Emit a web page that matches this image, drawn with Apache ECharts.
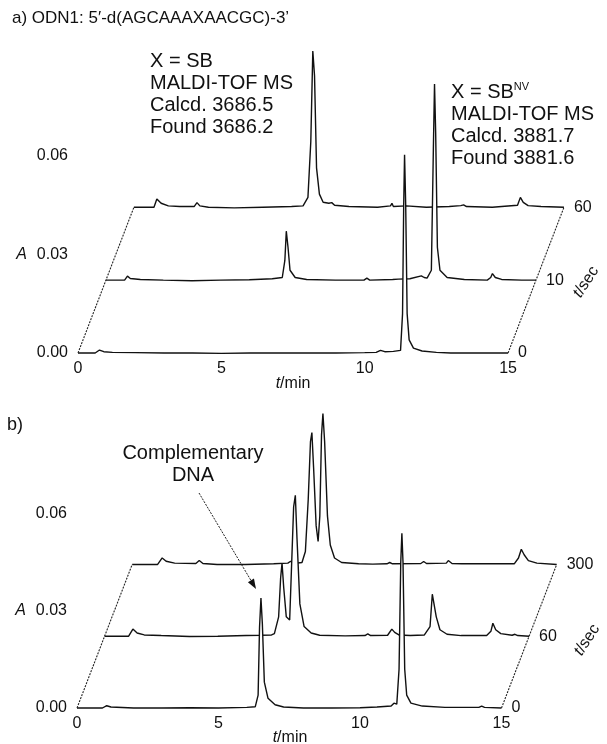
<!DOCTYPE html>
<html>
<head>
<meta charset="utf-8">
<script src="https://cdn.jsdelivr.net/npm/echarts@6/dist/echarts.min.js"></script>
<style>
    html, body { margin: 0; padding: 0; background: #fff; }
    #chart { width: 607px; height: 744px; }
</style>
</head>
<body>
<div id="chart"></div>
<script>
    // axis ticks (t/min and absorbance A)
    const xTicks = [0, 5, 10, 15];
    const yTicks = [0, 0.03, 0.06];

    // panel a) ODN1 chromatograms, points are [t/min, A]
    const labelsA = ['0', '10', '60'];
    const traceA0 = [
        [0, 0], [0.6, 0], [0.75, 0.0009], [0.9, 0.0004], [1.2, 0.0002], [2, 0.0001], [3, 0], [4, 0],
        [5, -0.0001], [6, 0], [7, 0], [8, 0], [9, 0], [10, 0.0001], [10.4, 0.0002], [10.55, 0.0008],
        [10.7, 0.0004], [11.0, 0.0005], [11.25, 0.0008], [11.32, 0.012], [11.36, 0.045], [11.39, 0.0604],
        [11.43, 0.045], [11.48, 0.012], [11.55, 0.004], [11.7, 0.0015], [12.0, 0.0006], [12.5, 0.0002],
        [13, 0], [14, 0], [15, 0]
    ];
    const traceA10 = [
        [0, 0], [0.65, 0], [0.75, 0.0012], [0.85, 0.0005], [1.2, 0.0002], [2, 0], [3, -0.0002], [4, 0],
        [5, 0.0001], [5.8, 0.0004], [6.15, 0.0008], [6.24, 0.006], [6.29, 0.0149], [6.35, 0.01],
        [6.42, 0.003], [6.6, 0.0008], [7, 0.0002], [8, 0], [9.0, 0], [9.1, 0.0006], [9.2, 0],
        [10, 0.0002], [10.2, 0.0003], [10.6, 0.0004], [11, 0.0013], [11.1, 0.0008], [11.2, 0.0006],
        [11.35, 0.003], [11.42, 0.04], [11.46, 0.0597], [11.5, 0.045], [11.56, 0.01], [11.65, 0.003],
        [11.9, 0.0008], [12.5, 0.0002], [13.3, 0], [13.42, 0.0008], [13.48, 0.002], [13.58, 0.0008],
        [13.8, 0.0002], [14.5, 0], [15, 0]
    ];
    const traceA60 = [
        [0, 0], [0.7, 0], [0.8, 0.0025], [0.95, 0.0012], [1.2, 0.0004], [1.6, 0.0002], [2.1, 0.0002],
        [2.2, 0.0014], [2.3, 0.0004], [2.6, 0], [3.5, -0.0002], [4.5, 0], [5.5, 0.0002], [5.9, 0.0004],
        [6.07, 0.003], [6.17, 0.02], [6.24, 0.0476], [6.3, 0.04], [6.37, 0.012], [6.47, 0.004],
        [6.6, 0.0015], [6.8, 0.0012], [6.9, 0.0014], [7.0, 0.0006], [7.5, 0.0002], [8.5, 0],
        [8.95, 0.0004], [9.0, 0.0012], [9.05, 0.0002], [9.5, 0.0004], [10.2, 0], [11.0, 0.0002],
        [11.4, 0.0005], [11.5, 0.0007], [11.6, 0.0002], [12.5, 0], [13.38, 0.0006], [13.48, 0.003],
        [13.58, 0.0015], [13.75, 0.0005], [14.2, 0.0002], [15, 0]
    ];

    // panel b) with complementary DNA, traces after 0, 60, 300 sec
    const labelsB = ['0', '60', '300'];
    const traceB0 = [
        [0, 0], [0.9, 0], [1.05, 0.0007], [1.2, 0.0003], [2, 0], [3, 0], [4, 0.0001], [5, 0],
        [6, 0.0002], [6.3, 0.0004], [6.4, 0.004], [6.45, 0.025], [6.5, 0.034], [6.55, 0.026],
        [6.62, 0.008], [6.75, 0.003], [7.0, 0.001], [7.3, 0.0003], [8, 0], [9, 0], [10, 0.0001],
        [10.6, 0.0003], [11.1, 0.0006], [11.2, 0.0015], [11.3, 0.0012], [11.38, 0.012], [11.44, 0.045],
        [11.48, 0.054], [11.52, 0.045], [11.58, 0.012], [11.65, 0.004], [11.8, 0.0015], [12.2, 0.0006],
        [13, 0.0002], [14.2, 0.0002], [14.3, 0.0006], [14.4, 0.0002], [15, 0]
    ];
    const traceB60 = [
        [0, 0], [0.85, 0], [1.0, 0.0022], [1.15, 0.001], [1.4, 0.0004], [2, 0.0002], [3, -0.0001],
        [4, 0], [5, 0.0002], [5.5, 0.0003], [5.9, 0.0004], [6.0, 0.0008], [6.15, 0.006], [6.22, 0.018],
        [6.27, 0.0226], [6.33, 0.015], [6.42, 0.006], [6.54, 0.005], [6.6, 0.02], [6.68, 0.04],
        [6.74, 0.0436], [6.8, 0.03], [6.9, 0.01], [7.05, 0.003], [7.3, 0.001], [7.6, 0.0003],
        [8.5, 0.0001], [9.2, 0.0002], [9.3, 0.0007], [9.4, 0.0002], [10.0, 0.0003], [10.15, 0.0022],
        [10.25, 0.0012], [10.4, 0.0004], [10.8, 0.0002], [11.3, 0.0004], [11.5, 0.003], [11.58, 0.013],
        [11.63, 0.0125], [11.72, 0.006], [11.85, 0.002], [12.1, 0.0006], [12.6, 0.0002], [13.5, 0.0002],
        [13.65, 0.0015], [13.72, 0.004], [13.82, 0.002], [14.0, 0.0008], [14.4, 0.0003], [14.5, 0.0006],
        [14.6, 0.0002], [15, 0]
    ];
    const traceB300 = [
        [0, 0], [0.9, 0], [1.06, 0.002], [1.2, 0.001], [1.5, 0.0004], [2.25, 0.0003], [2.37, 0.0012],
        [2.5, 0.0003], [3, 0], [4, 0], [5, 0.0002], [5.5, 0.0004], [5.6, 0.001], [5.7, 0.0003],
        [6.0, 0.0006], [6.12, 0.004], [6.22, 0.02], [6.3, 0.038], [6.35, 0.0408], [6.41, 0.03],
        [6.5, 0.012], [6.57, 0.0071], [6.63, 0.015], [6.69, 0.04], [6.74, 0.0467], [6.8, 0.038],
        [6.9, 0.015], [7.0, 0.006], [7.15, 0.002], [7.4, 0.0006], [8, 0.0002], [8.5, 0.0001],
        [9.0, 0.0002], [9.1, 0.0006], [9.2, 0.0002], [10.2, 0.0003], [10.3, 0.0009], [10.4, 0.0003],
        [11.1, 0.0004], [11.17, 0.0012], [11.3, 0.0003], [11.65, 0.0002], [11.7, 0.0006], [11.8, 0.0002],
        [13.5, 0.0002], [13.65, 0.002], [13.75, 0.0047], [13.85, 0.003], [14.0, 0.0012], [14.3, 0.0004],
        [15, 0]
    ];

    // pseudo-3D depth step between traces (min, A)
    const depthStep = { dx: 0.975, dy: 0.0222 };
    const fontFamily = 'Liberation Sans, Arial, Helvetica, sans-serif';
    const ink = '#111';

    function fnXAxis(gridIndex) {
        return {
            type: 'value', gridIndex: gridIndex,
            min: 0, max: 17, interval: 5,
            axisLine: { show: false }, axisTick: { show: false }, splitLine: { show: false },
            axisLabel: {
                margin: 8, fontSize: 16, color: ink, fontFamily: fontFamily,
                formatter: function (v) {
                    return xTicks.indexOf(v) >= 0 ? String(v) : '';
                }
            }
        };
    }

    function fnYAxis(gridIndex) {
        return {
            type: 'value', gridIndex: gridIndex,
            min: 0, max: 0.096, interval: 0.03,
            axisLine: { show: false }, axisTick: { show: false }, splitLine: { show: false },
            axisLabel: {
                margin: 10, fontSize: 16, color: ink, fontFamily: fontFamily,
                formatter: function (v) {
                    let k = Math.round(v * 100);
                    let hit = yTicks.some(function (t) { return Math.round(t * 100) === k; });
                    if (!hit) return '';
                    let txt = v.toFixed(2);
                    return k === 3 ? '{i|A}' + txt : txt;
                },
                rich: {
                    i: { fontStyle: 'italic', fontSize: 16, color: ink, fontFamily: fontFamily, padding: [0, 10, 0, 0] }
                }
            }
        };
    }

    function fnTraceSeries(gridIndex, data, depth, label) {
        return {
            type: 'line',
            xAxisIndex: gridIndex, yAxisIndex: gridIndex,
            data: data.map(function (p) {
                return [p[0] + depth * depthStep.dx, p[1] + depth * depthStep.dy];
            }),
            symbol: 'none', showSymbol: false, clip: false, silent: true,
            z: 3 + (2 - depth),
            lineStyle: { color: ink, width: 1.4 },
            areaStyle: { color: '#fff', opacity: 1, origin: 'start' },
            endLabel: {
                show: true, formatter: label, distance: 10,
                fontSize: 16, color: ink, fontFamily: fontFamily
            }
        };
    }

    function fnDiagonals(gridIndex) {
        let style = { color: '#222', width: 1.1, type: [2, 1.2] };
        let left = [[0, 0], [2 * depthStep.dx, 2 * depthStep.dy]];
        let right = [[15, 0], [15 + 2 * depthStep.dx, 2 * depthStep.dy]];
        return [left, right].map(function (seg) {
            return {
                type: 'line', xAxisIndex: gridIndex, yAxisIndex: gridIndex,
                data: seg, symbol: 'none', clip: false, silent: true, z: 8,
                lineStyle: style
            };
        });
    }

    function fnText(x, y, text, size, extra) {
        let style = Object.assign({
            text: text, fill: ink, fontSize: size, fontFamily: fontFamily,
            align: 'left', verticalAlign: 'middle'
        }, extra || {});
        return { type: 'text', x: x, y: y, z: 20, silent: true, style: style };
    }

    let chart = echarts.init(document.getElementById('chart'), null, { renderer: 'canvas' });

    let series = [];
    series.push(fnTraceSeries(0, traceA60, 2, labelsA[2]));
    series.push(fnTraceSeries(0, traceA10, 1, labelsA[1]));
    series.push(fnTraceSeries(0, traceA0, 0, labelsA[0]));
    series.push(fnTraceSeries(1, traceB300, 2, labelsB[2]));
    series.push(fnTraceSeries(1, traceB60, 1, labelsB[1]));
    series.push(fnTraceSeries(1, traceB0, 0, labelsB[0]));
    series = series.concat(fnDiagonals(0), fnDiagonals(1));

    let richT = {
        i: { fontStyle: 'italic', fontSize: 16, fontFamily: fontFamily, fill: ink, color: ink },
        n: { fontSize: 16, fontFamily: fontFamily, fill: ink, color: ink }
    };
    let richNote = {
        n: { fontSize: 20, lineHeight: 22, fontFamily: fontFamily, color: ink },
        s: { fontSize: 11, lineHeight: 12, verticalAlign: 'top', fontFamily: fontFamily, color: ink }
    };

    let arrowDir = [56, 95];
    let len = Math.sqrt(arrowDir[0] * arrowDir[0] + arrowDir[1] * arrowDir[1]);
    let ux = arrowDir[0] / len, uy = arrowDir[1] / len;
    let tip = [256, 589];
    let base = [tip[0] - 10 * ux, tip[1] - 10 * uy];

    let graphic = [
        fnText(12, 18, "a) ODN1: 5\u2032-d(AGCAAAXAACGC)-3\u2019", 17),
        fnText(7, 425, 'b)', 18),
        fnText(150, 50, 'X = SB\nMALDI-TOF MS\nCalcd. 3686.5\nFound 3686.2', 20,
            { verticalAlign: 'top', lineHeight: 22 }),
        fnText(451, 81, '{n|X = SB}{s|NV}\n{n|MALDI-TOF MS}\n{n|Calcd. 3881.7}\n{n|Found 3881.6}', 20,
            { verticalAlign: 'top', rich: richNote }),
        fnText(193, 442, 'Complementary\nDNA', 20,
            { align: 'center', verticalAlign: 'top', lineHeight: 22 }),
        fnText(293, 384, '{i|t}{n|/min}', 16, { align: 'center', rich: richT }),
        fnText(290, 738, '{i|t}{n|/min}', 16, { align: 'center', rich: richT }),
        Object.assign(fnText(586, 282, '{i|t}{n|/sec}', 16, { align: 'center', rich: richT }),
            { rotation: 57 * Math.PI / 180 }),
        Object.assign(fnText(587, 640, '{i|t}{n|/sec}', 16, { align: 'center', rich: richT }),
            { rotation: 57 * Math.PI / 180 }),
        {
            type: 'line', z: 20, silent: true,
            shape: { x1: 199, y1: 493, x2: base[0], y2: base[1] },
            style: { stroke: '#222', lineWidth: 1, lineDash: [2, 1.2] }
        },
        {
            type: 'polygon', z: 20, silent: true,
            shape: {
                points: [
                    tip,
                    [base[0] - 3.5 * uy, base[1] + 3.5 * ux],
                    [base[0] + 3.5 * uy, base[1] - 3.5 * ux]
                ]
            },
            style: { fill: '#111' }
        }
    ];

    chart.setOption({
        animation: false,
        backgroundColor: '#fff',
        textStyle: { fontFamily: fontFamily },
        grid: [
            { left: 78, right: 41.6, top: 37.8, bottom: 391 },
            { left: 77, right: 48.9, top: 397.6, bottom: 36 }
        ],
        xAxis: [fnXAxis(0), fnXAxis(1)],
        yAxis: [fnYAxis(0), fnYAxis(1)],
        series: series,
        graphic: graphic
    });
</script>
</body>
</html>
